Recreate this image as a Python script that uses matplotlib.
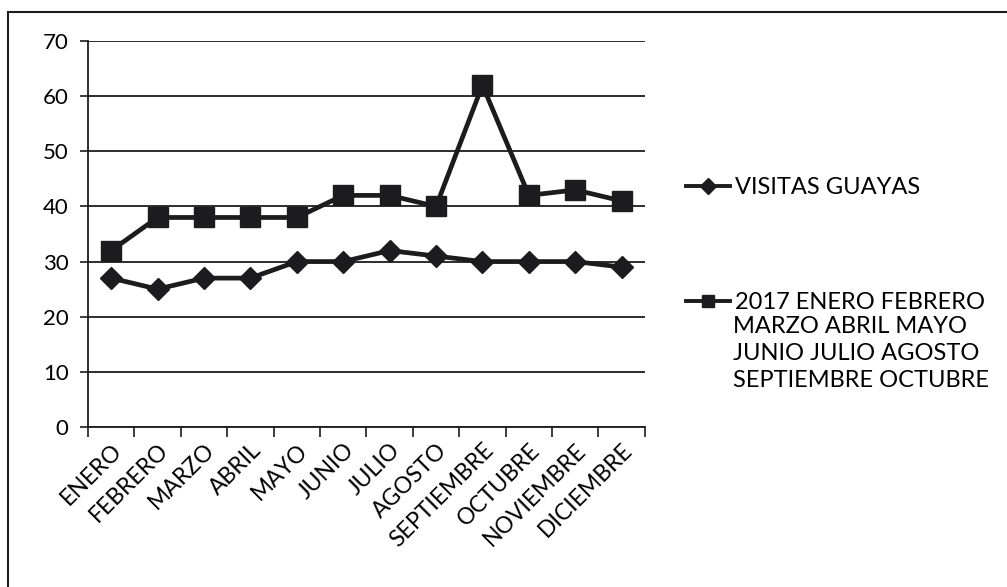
import numpy as np
import matplotlib
matplotlib.use("Agg")
import matplotlib.pyplot as plt
from matplotlib.patches import Rectangle

# data
meses = ['ENERO', 'FEBRERO', 'MARZO', 'ABRIL', 'MAYO', 'JUNIO', 'JULIO',
         'AGOSTO', 'SEPTIEMBRE', 'OCTUBRE', 'NOVIEMBRE', 'DICIEMBRE']
visitas_guayas = [27, 25, 27, 27, 30, 30, 32, 31, 30, 30, 30, 29]
serie_2017 = [32, 38, 38, 38, 38, 42, 42, 40, 62, 42, 43, 41]
y_ticks = [0, 10, 20, 30, 40, 50, 60, 70]

label_1 = 'VISITAS GUAYAS'
label_2 = ['2017 ENERO FEBRERO', 'MARZO ABRIL MAYO',
           'JUNIO JULIO AGOSTO', 'SEPTIEMBRE OCTUBRE']

plt.rcParams['font.family'] = ['Lato', 'DejaVu Sans']
ink = '#1c1c1e'

fig = plt.figure(figsize=(10.07, 5.87), dpi=100)
ax = fig.add_axes([0.0874, 0.2726, 0.553, 0.6575])

x = np.arange(len(meses))
ax.plot(x, visitas_guayas, color=ink, lw=3.4, marker='D', markersize=11,
        label=label_1, zorder=3)
ax.plot(x, serie_2017, color=ink, lw=3.4, marker='s', markersize=14,
        label=label_2[0], zorder=3)

ax.set_xlim(-0.5, len(meses) - 0.5)
ax.set_ylim(0, 70)
ax.set_yticks(y_ticks)
ax.tick_params(axis='y', labelsize=16, length=6, width=1.2, color=ink, pad=8)
ax.yaxis.grid(True, color=ink, lw=1.3)
ax.set_axisbelow(True)

ax.set_xticks(x)
ax.set_xticklabels(meses, rotation=45, ha='right', rotation_mode='anchor',
                   fontsize=16.5)
ax.tick_params(axis='x', which='major', length=0, pad=9)
ax.set_xticks(np.arange(-0.5, len(meses)), minor=True)
ax.tick_params(axis='x', which='minor', length=7, width=1.2, color=ink)

for side in ['top', 'right']:
    ax.spines[side].set_visible(False)
for side in ['left', 'bottom']:
    ax.spines[side].set_color(ink)
    ax.spines[side].set_linewidth(1.3)

leg = fig.legend(loc='upper left', bbox_to_anchor=(0.660, 0.735),
                 frameon=False, fontsize=17, handlelength=1.86,
                 handletextpad=0.2, labelspacing=4.0)
for h in leg.legend_handles:
    h.set_linewidth(2.8)
    h.set_markersize(8)

for i, line in enumerate(label_2[1:]):
    fig.text(0.728, 0.443 - i * 0.046, line, fontsize=17, color='black',
             va='center')

# outer frame of the spreadsheet chart
fig.patches.append(Rectangle((0.008, -0.01), 1.0, 0.99, transform=fig.transFigure,
                             fill=False, edgecolor=ink, lw=1.5))

fig.savefig('out.png', dpi=100)
